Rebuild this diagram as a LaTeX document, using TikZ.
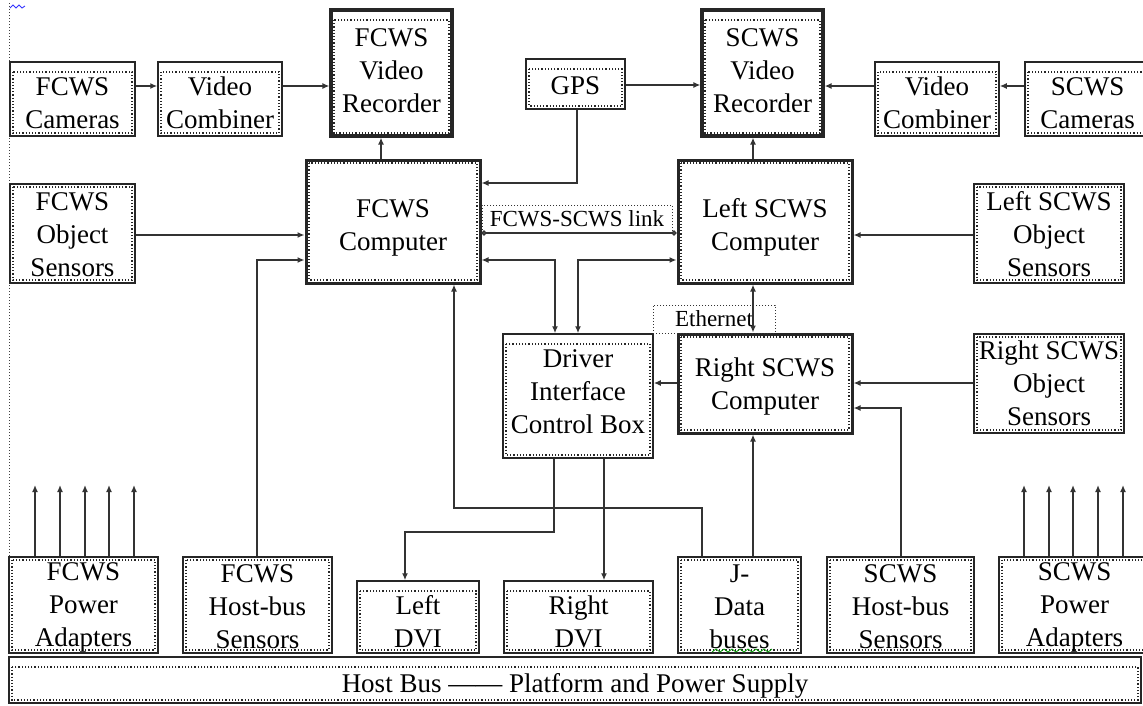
\documentclass[tikz,border=0pt]{standalone}
\usepackage{fontspec}
\setmainfont{Liberation Serif}
\usetikzlibrary{arrows.meta,calc}
\newcommand\bx[8]{%
  \node[#1, minimum width={(#5-#3)*1pt}, minimum height={(#6-#4)*1pt}] (#2) at ({(#3+#5)/2},{(#4+#6)/2}) {};
  \node[txt] (#2-t) at ({(#3+#5)/2},{(#4+#6)/2+#7}) {#8};}
\tikzset{
  base/.style={draw=black!85, rectangle, inner sep=0pt, fill=white},
  txt/.style={inner sep=0pt, align=center, font=\fontsize{27}{33}\selectfont},
  tbox/.style={base, line width=1.5pt,
    path picture={\draw[dotted, line width=1.2pt]
      ([shift={(3pt,-10pt)}]path picture bounding box.north west) rectangle
      ([shift={(-3pt,3pt)}]path picture bounding box.south east);}},
  sbox/.style={base, line width=2pt,
    path picture={\draw[dotted, line width=1.2pt]
      ([shift={(3pt,-3pt)}]path picture bounding box.north west) rectangle
      ([shift={(-3pt,3pt)}]path picture bounding box.south east);}},
  kbox/.style={tbox, line width=3.2pt},
  cbox/.style={sbox, line width=3pt},
  lbl/.style={draw=black!80, dotted, line width=1pt, rectangle, inner sep=0pt,
    font=\fontsize{23}{26}\selectfont},
  conn/.style={line width=1.6pt, draw=black!80},
  arr/.style={conn, -{Latex[length=7pt,width=6pt]}},
  darr/.style={conn, {Latex[length=7pt,width=6pt]}-{Latex[length=7pt,width=6pt]}},
  link/.style={conn, {Circle[open,length=5pt]}-{Circle[open,length=5pt]}},
}
\begin{document}
\begin{tikzpicture}[x=1pt,y=-1pt]
\useasboundingbox (0,0) rectangle (1143,705);
% page margin and marks
\draw[dotted, line width=1pt, black!75] (9,3) -- (9,557);
\draw[blue!80, line width=0.9pt] (10,8) -- (13,5) -- (16,8) -- (19,5) -- (22,8) -- (25,6);
% helper coordinates
\foreach \v in {35,60,85,109,134,257,381,405,454,554,555,577,578,604,702,753,901,1024,1049,1073,1098,1123}
  {\coordinate (x\v) at (\v,0);}
\foreach \v in {85,86,183,233,235,260,383,408,485,508,532}
  {\coordinate (y\v) at (0,\v);}
% boxes
\bx{tbox}{fcam}{10}{62}{135}{136}{4}{FCWS\\Cameras}
\bx{tbox}{fvc}{158}{62}{282}{136}{4}{Video\\Combiner}
\bx{kbox}{frec}{331}{10}{452}{136}{-2}{FCWS\\Video\\Recorder}
\bx{sbox}{fobj}{10}{184}{135}{283}{1}{FCWS\\Object\\Sensors}
\bx{cbox}{fcomp}{306}{160}{480}{283}{6}{FCWS\\Computer}
\bx{tbox}{gps}{526}{59}{625}{109}{2}{GPS}
\bx{kbox}{srec}{702}{10}{823}{136}{-2}{SCWS\\Video\\Recorder}
\bx{cbox}{scomp}{678}{160}{852}{283}{6}{Left SCWS\\Computer}
\bx{tbox}{svc}{875}{62}{999}{136}{4}{Video\\Combiner}
\bx{tbox}{scam}{1025}{62}{1150}{136}{4}{SCWS\\Cameras}
\bx{sbox}{sobj}{974}{184}{1124}{283}{1}{Left SCWS\\Object\\Sensors}
\bx{tbox}{dicb}{503}{334}{653}{458}{-4}{Driver\\Interface\\Control Box}
\bx{cbox}{rcomp}{678}{334}{852}{433}{3}{Right SCWS\\Computer}
\bx{sbox}{robj}{974}{334}{1124}{433}{0}{Right SCWS\\Object\\Sensors}
\bx{sbox}{fpow}{9}{557}{158}{653}{2}{FCWS\\Power\\Adapters}
\bx{sbox}{fhost}{183}{557}{332}{653}{2}{FCWS\\Host-bus\\Sensors}
\bx{tbox}{ldvi}{357}{581}{479}{653}{5}{Left\\DVI}
\bx{tbox}{rdvi}{504}{581}{653}{653}{5}{Right\\DVI}
\bx{sbox}{jdata}{678}{557}{801}{653}{2}{J-\\Data\\buses}
\bx{sbox}{shost}{827}{557}{974}{653}{2}{SCWS\\Host-bus\\Sensors}
\bx{sbox}{spow}{999}{557}{1150}{653}{2}{SCWS\\Power\\Adapters}
\bx{tbox}{bus}{9}{657}{1141}{703}{6}{Host Bus —— Platform and Power Supply}
\draw[green!60!black, line width=0.8pt] (712,652) -- (716,649) -- (720,652) -- (724,649) -- (728,652) -- (732,649) -- (736,652) -- (740,649) -- (744,652) -- (748,649) -- (752,652) -- (756,649) -- (760,652) -- (764,649) -- (768,652) -- (772,649);
% labels
\node[lbl, minimum width=190pt, minimum height=28pt] (linklbl) at (577,219) {FCWS-SCWS link};
\node[lbl, minimum width=122pt, minimum height=28pt] (ethlbl) at (714,319) {Ethernet};
% connectors
\draw[arr] (fcam.east |- y86) -- (fvc.west |- y86);
\draw[arr] (fvc.east |- y86) -- (frec.west |- y86);
\draw[arr] (gps.east |- y85) -- (srec.west |- y85);
\draw[arr] (scam.west |- y86) -- (svc.east |- y86);
\draw[arr] (svc.west |- y86) -- (srec.east |- y86);
\draw[arr] (fcomp.north -| x381) -- (frec.south -| x381);
\draw[arr] (scomp.north -| x753) -- (srec.south -| x753);
\draw[arr] (fobj.east |- y235) -- (fcomp.west |- y235);
\draw[arr] (sobj.west |- y235) -- (scomp.east |- y235);
\draw[arr] (gps.south -| x577) |- (fcomp.east |- y183);
\draw[link] (fcomp.east |- y233) -- (scomp.west |- y233);
\draw[darr] (fcomp.east |- y260) -| (dicb.north -| x555);
\draw[darr] (scomp.west |- y260) -| (dicb.north -| x578);
\draw[darr] (scomp.south -| x753) -- (rcomp.north -| x753);
\draw[arr] (rcomp.west |- y383) -- (dicb.east |- y383);
\draw[arr] (robj.west |- y383) -- (rcomp.east |- y383);
\draw[arr] (shost.north -| x901) |- (rcomp.east |- y408);
\draw[arr] (jdata.north -| x753) -- (rcomp.south -| x753);
\draw[arr] (jdata.north -| x702) |- (x454 |- y508) -- (fcomp.south -| x454);
\draw[arr] (dicb.south -| x554) |- (x405 |- y532) -- (ldvi.north -| x405);
\draw[arr] (dicb.south -| x604) -- (rdvi.north -| x604);
\draw[arr] (fhost.north -| x257) |- (fcomp.west |- y260);
\foreach \v in {35,60,85,109,134}
  {\draw[arr] (fpow.north -| x\v) -- (x\v |- y485);}
\foreach \v in {1024,1049,1073,1098,1123}
  {\draw[arr] (spow.north -| x\v) -- (x\v |- y485);}
\end{tikzpicture}
\end{document}
